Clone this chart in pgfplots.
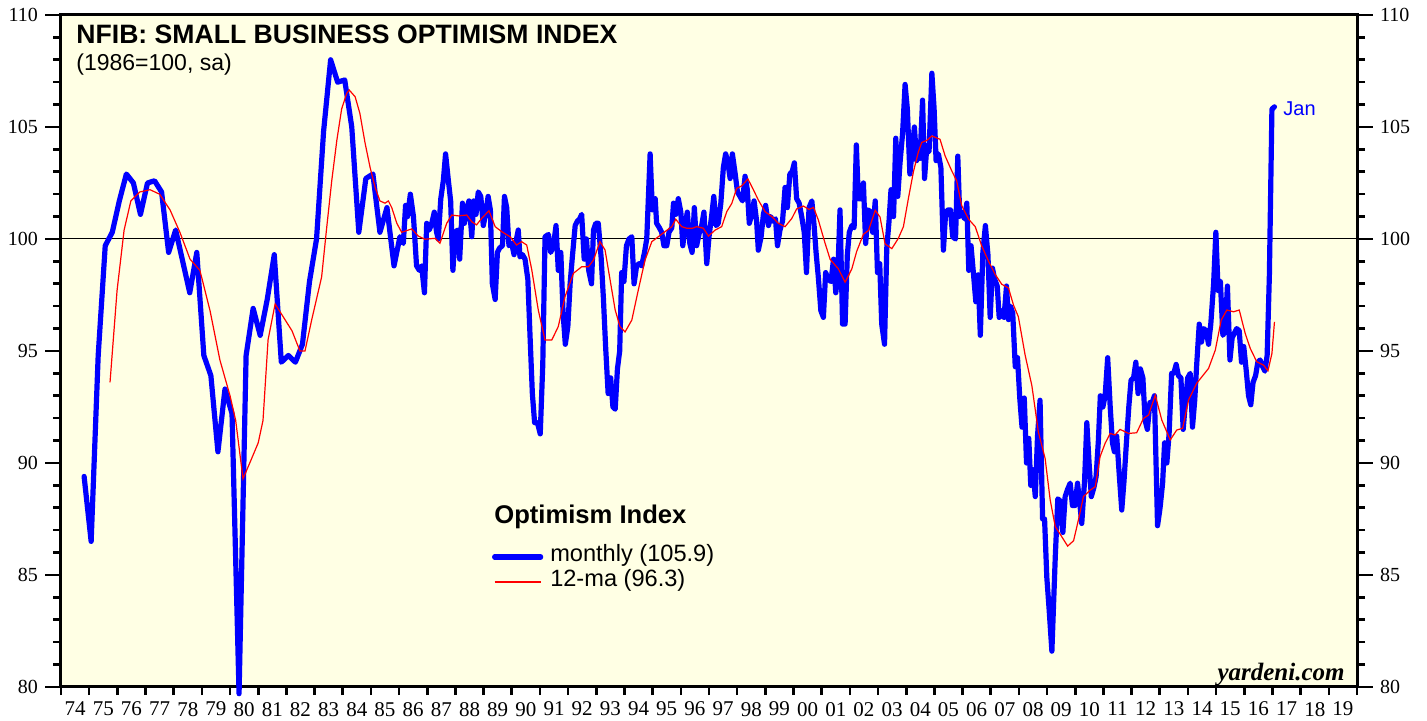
\documentclass[border=0pt]{standalone}
\usepackage{fontspec}
\setmainfont{Liberation Sans}
\newfontfamily\tnr{Liberation Serif}
\usepackage{pgfplots}
\usepackage{pgfplotstable}
\pgfplotsset{compat=1.18}
\definecolor{bgyellow}{RGB}{255,255,228}
\definecolor{idxblue}{RGB}{0,0,255}
\definecolor{idxred}{RGB}{255,0,0}

\pgfplotstableread{
x y
1974.82 89.4
1975.07 86.5
1975.32 94.8
1975.57 99.7
1975.82 100.3
1976.07 101.7
1976.32 102.9
1976.57 102.5
1976.82 101.1
1977.07 102.5
1977.32 102.6
1977.57 102.1
1977.82 99.4
1978.07 100.4
1978.32 99.0
1978.57 97.6
1978.82 99.4
1979.07 94.8
1979.32 93.9
1979.57 90.5
1979.82 93.3
1980.07 92.2
1980.32 79.7
1980.57 94.8
1980.82 96.9
1981.07 95.7
1981.32 97.3
1981.57 99.3
1981.82 94.5
1982.07 94.8
1982.32 94.5
1982.57 95.3
1982.82 98.1
1983.07 100.0
1983.32 104.8
1983.57 108.0
1983.82 107.0
1984.07 107.1
1984.32 105.0
1984.57 100.3
1984.82 102.7
1985.07 102.9
1985.32 100.3
1985.57 101.4
1985.82 98.8
1986.03 100.1
1986.15 99.8
1986.23 101.5
1986.30 101.0
1986.40 102.0
1986.51 101.0
1986.62 98.8
1986.72 98.6
1986.80 98.8
1986.90 97.6
1986.98 100.7
1987.07 100.4
1987.16 100.7
1987.25 101.2
1987.33 100.3
1987.39 100.0
1987.48 101.8
1987.57 102.6
1987.65 103.8
1987.75 102.6
1987.83 101.7
1987.91 98.6
1987.99 100.3
1988.08 100.4
1988.15 99.1
1988.25 101.6
1988.32 100.7
1988.40 101.3
1988.48 101.7
1988.58 100.1
1988.65 101.7
1988.73 101.1
1988.81 102.1
1988.90 101.9
1988.99 100.6
1989.07 101.1
1989.16 101.9
1989.24 101.3
1989.31 98.0
1989.41 97.3
1989.49 99.4
1989.57 99.6
1989.67 99.7
1989.74 101.9
1989.82 101.4
1989.90 99.7
1990.00 99.8
1990.08 99.3
1990.15 99.9
1990.23 100.4
1990.29 99.2
1990.38 99.3
1990.47 99.1
1990.57 98.2
1990.65 95.6
1990.73 93.1
1990.81 91.8
1990.91 91.8
1991.01 91.3
1991.10 94.4
1991.18 100.1
1991.30 100.2
1991.38 99.4
1991.48 99.7
1991.57 100.6
1991.65 98.6
1991.74 99.4
1991.82 96.7
1991.90 95.3
1991.99 96.1
1992.07 98.0
1992.15 99.2
1992.25 100.6
1992.33 100.8
1992.41 100.9
1992.48 101.1
1992.57 99.1
1992.65 100.0
1992.73 98.6
1992.83 98.0
1992.90 100.4
1992.98 100.7
1993.07 100.7
1993.17 99.2
1993.25 97.4
1993.33 95.2
1993.42 93.1
1993.51 93.8
1993.59 92.5
1993.67 92.4
1993.75 94.2
1993.83 95.0
1993.90 98.5
1993.98 98.1
1994.07 99.7
1994.16 100.0
1994.26 100.1
1994.34 98.0
1994.43 98.8
1994.52 98.9
1994.61 98.8
1994.71 99.4
1994.79 100.0
1994.91 103.8
1994.99 101.3
1995.09 101.8
1995.14 100.7
1995.24 100.5
1995.32 100.3
1995.40 99.7
1995.50 99.7
1995.58 100.3
1995.68 100.5
1995.74 101.6
1995.82 101.1
1995.91 101.8
1996.00 101.2
1996.07 99.7
1996.15 100.6
1996.23 101.2
1996.32 99.8
1996.40 99.4
1996.48 101.4
1996.56 99.7
1996.66 100.3
1996.74 100.6
1996.82 101.2
1996.92 98.9
1997.00 100.1
1997.10 101.1
1997.17 101.9
1997.25 100.6
1997.33 100.7
1997.42 101.6
1997.51 103.2
1997.59 103.8
1997.66 103.5
1997.75 102.7
1997.83 103.8
1997.93 102.9
1998.01 102.1
1998.10 101.9
1998.19 101.7
1998.28 102.8
1998.36 102.2
1998.43 100.7
1998.52 101.1
1998.60 101.7
1998.69 100.8
1998.75 99.5
1998.85 100.1
1998.93 101.1
1999.01 101.5
1999.11 100.6
1999.19 101.0
1999.27 100.8
1999.36 100.9
1999.43 99.7
1999.52 100.4
1999.61 100.8
1999.70 102.3
1999.78 101.4
1999.87 102.9
1999.95 103.0
2000.03 103.4
2000.11 101.8
2000.20 101.6
2000.29 101.0
2000.38 100.3
2000.46 98.5
2000.55 101.4
2000.65 101.7
2000.73 100.6
2000.80 99.4
2000.88 98.3
2000.97 96.8
2001.06 96.5
2001.14 98.5
2001.24 98.2
2001.33 98.1
2001.42 99.1
2001.50 97.6
2001.57 98.4
2001.65 101.3
2001.74 96.2
2001.83 96.2
2001.91 99.3
2001.98 100.3
2002.07 100.6
2002.15 100.5
2002.23 104.2
2002.30 101.8
2002.40 101.8
2002.48 102.5
2002.56 99.8
2002.65 101.3
2002.73 101.2
2002.81 100.3
2002.90 101.7
2002.98 98.5
2003.06 98.9
2003.13 96.2
2003.23 95.3
2003.31 99.6
2003.39 100.8
2003.46 102.2
2003.55 101.0
2003.63 104.5
2003.70 101.9
2003.78 103.4
2003.87 104.7
2003.96 106.9
2004.04 105.8
2004.13 102.9
2004.21 103.9
2004.29 105.0
2004.37 103.5
2004.43 103.9
2004.49 103.6
2004.58 106.2
2004.65 102.7
2004.73 104.1
2004.81 103.9
2004.91 107.4
2004.99 105.8
2005.06 103.5
2005.14 103.8
2005.23 103.2
2005.32 99.5
2005.40 101.2
2005.49 101.3
2005.57 101.3
2005.65 100.1
2005.75 100.0
2005.83 103.7
2005.90 101.0
2005.98 101.2
2006.07 100.9
2006.15 101.6
2006.22 98.6
2006.30 99.7
2006.39 98.4
2006.47 97.2
2006.55 98.4
2006.63 95.7
2006.72 99.4
2006.81 100.6
2006.90 99.3
2006.98 96.5
2007.06 98.7
2007.14 98.2
2007.23 97.9
2007.30 96.5
2007.39 96.8
2007.47 96.5
2007.56 97.9
2007.63 96.4
2007.70 97.0
2007.78 96.7
2007.87 94.3
2007.95 94.7
2008.03 92.9
2008.11 91.6
2008.19 92.9
2008.27 90.0
2008.35 91.1
2008.42 89.0
2008.50 89.7
2008.58 88.5
2008.66 91.2
2008.75 92.8
2008.84 87.5
2008.91 87.5
2008.99 84.9
2009.07 83.5
2009.17 81.6
2009.29 85.8
2009.38 88.4
2009.47 88.3
2009.56 86.9
2009.64 88.5
2009.72 88.8
2009.82 89.1
2009.90 88.1
2009.99 88.1
2010.08 89.1
2010.16 88.2
2010.23 87.3
2010.33 89.2
2010.41 91.8
2010.49 90.0
2010.57 88.5
2010.66 88.9
2010.74 89.4
2010.82 91.0
2010.89 93.0
2010.98 92.5
2011.06 93.0
2011.15 94.7
2011.24 92.5
2011.32 90.9
2011.39 90.5
2011.47 91.2
2011.56 89.5
2011.65 87.9
2011.73 89.2
2011.82 91.0
2011.90 92.5
2011.98 93.7
2012.07 93.8
2012.15 94.5
2012.23 93.1
2012.31 94.2
2012.40 93.8
2012.48 91.9
2012.56 91.5
2012.65 92.7
2012.73 92.7
2012.81 93.0
2012.92 87.2
2013.01 88.0
2013.10 89.1
2013.17 90.9
2013.25 90.0
2013.33 91.3
2013.42 94.0
2013.50 94.0
2013.58 94.4
2013.66 93.9
2013.75 93.8
2013.83 91.5
2013.91 92.7
2013.99 93.8
2014.08 94.0
2014.16 91.6
2014.24 92.8
2014.31 94.4
2014.40 96.2
2014.48 95.4
2014.56 96.0
2014.65 95.9
2014.73 95.3
2014.81 96.2
2014.91 98.0
2014.99 100.3
2015.07 97.7
2015.15 98.1
2015.24 95.7
2015.32 95.9
2015.40 97.9
2015.49 94.6
2015.57 95.6
2015.65 95.8
2015.73 96.0
2015.82 95.9
2015.90 94.5
2015.98 95.2
2016.07 94.1
2016.15 93.0
2016.23 92.6
2016.31 93.6
2016.40 93.9
2016.48 94.5
2016.56 94.6
2016.65 94.3
2016.73 94.1
2016.81 94.8
2016.89 98.4
2016.98 105.8
2017.07 105.9
}\monthly

\pgfplotstableread{
x y
1975.74 93.6
1975.99 97.7
1976.24 100.4
1976.48 101.7
1976.80 102.1
1977.16 102.2
1977.50 102.0
1977.87 101.3
1978.22 100.3
1978.58 99.1
1978.93 98.6
1979.29 96.8
1979.64 94.6
1980.00 93.0
1980.20 91.9
1980.46 89.3
1980.70 90.0
1981.00 90.9
1981.17 91.9
1981.35 95.5
1981.60 97.1
1981.85 96.6
1982.20 95.9
1982.48 95.0
1982.66 95.0
1982.90 96.4
1983.25 98.3
1983.43 100.5
1983.61 102.6
1983.79 104.4
1983.96 105.8
1984.14 106.5
1984.23 106.65
1984.44 106.35
1984.61 105.6
1984.79 104.3
1984.97 103.2
1985.15 102.3
1985.32 101.7
1985.50 101.6
1985.62 101.7
1985.74 101.4
1985.92 100.7
1986.09 100.3
1986.45 100.45
1986.68 100.13
1986.92 99.99
1987.28 100.03
1987.45 99.81
1987.69 100.70
1987.87 101.07
1988.10 101.03
1988.40 101.07
1988.58 100.77
1988.75 100.63
1988.93 100.92
1989.19 101.26
1989.41 100.55
1989.64 100.33
1989.94 100.10
1990.17 99.73
1990.35 99.88
1990.53 99.73
1990.71 98.62
1990.94 96.83
1991.18 95.49
1991.42 95.49
1991.65 96.09
1991.89 97.43
1992.19 98.47
1992.48 98.76
1992.72 98.76
1992.90 99.06
1993.13 99.88
1993.31 99.51
1993.49 98.17
1993.67 96.83
1993.84 96.09
1994.02 95.85
1994.26 96.38
1994.49 97.72
1994.73 99.06
1994.97 99.88
1995.20 100.10
1995.44 100.33
1995.68 100.55
1995.82 100.88
1996.03 100.55
1996.21 100.48
1996.41 100.48
1996.56 100.55
1996.80 100.48
1996.98 100.13
1997.22 100.40
1997.45 100.55
1997.63 101.22
1997.81 101.59
1997.98 102.26
1998.16 102.37
1998.38 102.68
1998.58 102.19
1998.75 101.74
1998.99 101.22
1999.23 101.00
1999.46 100.70
1999.70 100.55
1999.94 100.92
2000.11 101.34
2000.35 101.47
2000.55 101.32
2000.71 101.41
2000.88 100.85
2001.12 99.81
2001.30 99.09
2001.59 98.67
2001.83 98.07
2002.07 98.67
2002.24 99.44
2002.48 100.21
2002.66 100.38
2002.90 101.28
2003.07 100.98
2003.25 99.78
2003.49 99.57
2003.72 100.03
2003.90 100.55
2004.08 101.83
2004.26 103.03
2004.43 103.88
2004.55 104.31
2004.73 104.40
2004.91 104.60
2005.20 104.45
2005.38 103.71
2005.62 103.03
2005.79 102.60
2005.97 101.49
2006.21 100.89
2006.45 100.55
2006.68 99.69
2006.92 99.01
2007.16 98.41
2007.39 97.98
2007.63 97.81
2007.81 97.04
2007.98 96.53
2008.22 94.82
2008.46 93.45
2008.69 91.39
2008.93 90.20
2009.11 88.35
2009.29 87.16
2009.52 86.71
2009.73 86.29
2009.94 86.53
2010.11 87.45
2010.29 88.50
2010.53 88.79
2010.71 88.94
2010.88 90.28
2011.06 90.88
2011.24 91.32
2011.41 91.25
2011.59 91.50
2011.89 91.32
2012.18 91.35
2012.42 91.99
2012.60 92.14
2012.84 93.03
2013.07 91.92
2013.37 91.03
2013.60 91.47
2013.81 91.55
2014.02 92.81
2014.31 93.56
2014.73 94.22
2014.97 95.04
2015.18 96.38
2015.38 96.83
2015.62 96.75
2015.82 96.83
2016.03 95.79
2016.21 95.12
2016.44 94.52
2016.68 94.37
2016.84 94.12
2016.98 94.89
2017.07 96.30
}\movavg

\begin{document}
\begin{tikzpicture}
\path[use as bounding box] (-30.5pt,-17pt) rectangle (683pt,343.5pt);
\begin{axis}[
  at={(0pt,0pt)}, anchor=south west,
  width=648pt, height=336pt, scale only axis,
  xmin=1974, xmax=2020, ymin=80, ymax=110,
  clip=false,
  axis background/.style={fill=bgyellow},
  axis line style={line width=1.5pt},
  tick align=outside,
  xtick pos=bottom, ytick pos=both, yticklabel pos=left,
  xtick={1974.5,1975.5,...,2019.5},
  xticklabels={74,75,76,77,78,79,80,81,82,83,84,85,86,87,88,89,90,91,92,93,94,95,96,97,98,99,00,01,02,03,04,05,06,07,08,09,10,11,12,13,14,15,16,17,18,19},
  minor xtick={1974,1975,...,2020},
  major x tick style={draw=none},
  minor x tick style={line width=1.3pt, black},
  ytick={80,85,...,110},
  minor ytick={81,82,83,84,86,87,88,89,91,92,93,94,96,97,98,99,101,102,103,104,106,107,108,109},
  major y tick style={line width=0.6pt, black},
  minor y tick style={line width=1.3pt, black},
  major tick length=8pt, minor tick length=4pt,
  /pgf/number format/assume math mode=true,
  yticklabel style={font=\tnr\fontsize{10}{12}\selectfont},
  xticklabel style={font=\tnr\fontsize{10.5}{12}\selectfont, yshift=4pt},
  legend cell align=left,
  legend image code/.code={\draw[#1] (0pt,0pt) -- (23pt,0pt); \path (26.5pt,0pt);},
  legend style={at={(0.3326,0.2120)}, anchor=north west, draw=none, fill=none,
    inner sep=0pt, outer sep=0pt, row sep=0pt,
    font=\fontsize{11.8}{14}\selectfont,
    nodes={inner sep=0pt, text height=8.5pt, text depth=4pt}},
]
\addplot[black, line width=0.5pt, forget plot] coordinates {(1974,100) (2020,100)};
\addplot[idxblue, line width=2.6pt, line join=round, line cap=round] table[x=x,y=y] {\monthly};
\addlegendentry{monthly (105.9)}
\addplot[idxred, line width=0.6pt] table[x=x,y=y] {\movavg};
\addlegendentry{12-ma (96.3)}

\node[anchor=base west, inner sep=0pt, font=\bfseries\fontsize{13.3}{16}\selectfont] at (rel axis cs:0.0116,0.9583) {NFIB: SMALL BUSINESS OPTIMISM INDEX};
\node[anchor=base west, inner sep=0pt, font=\fontsize{11.5}{14}\selectfont] at (rel axis cs:0.0116,0.9167) {(1986=100, sa)};
\node[anchor=base west, inner sep=0pt, font=\bfseries\fontsize{12.8}{15}\selectfont] at (rel axis cs:0.3341,0.2426) {Optimism Index};
\node[anchor=base west, inner sep=0pt, text=idxblue, font=\fontsize{10}{12}\selectfont] at (rel axis cs:0.9429,0.851) {Jan};
\node[anchor=base east, inner sep=0pt, font=\tnr\bfseries\itshape\fontsize{12.5}{14}\selectfont] at (rel axis cs:0.9907,0.0104) {yardeni.com};
\end{axis}
\begin{axis}[
  at={(0pt,0pt)}, anchor=south west,
  width=648pt, height=336pt, scale only axis,
  xmin=1974, xmax=2020, ymin=80, ymax=110,
  axis line style={draw=none},
  xtick=\empty,
  ytick={80,85,...,110},
  ytick pos=right, yticklabel pos=right,
  major tick length=8pt, tick align=outside,
  major y tick style={draw=none},
  /pgf/number format/assume math mode=true,
  yticklabel style={font=\tnr\fontsize{10}{12}\selectfont},
]
\end{axis}
\end{tikzpicture}
\end{document}
